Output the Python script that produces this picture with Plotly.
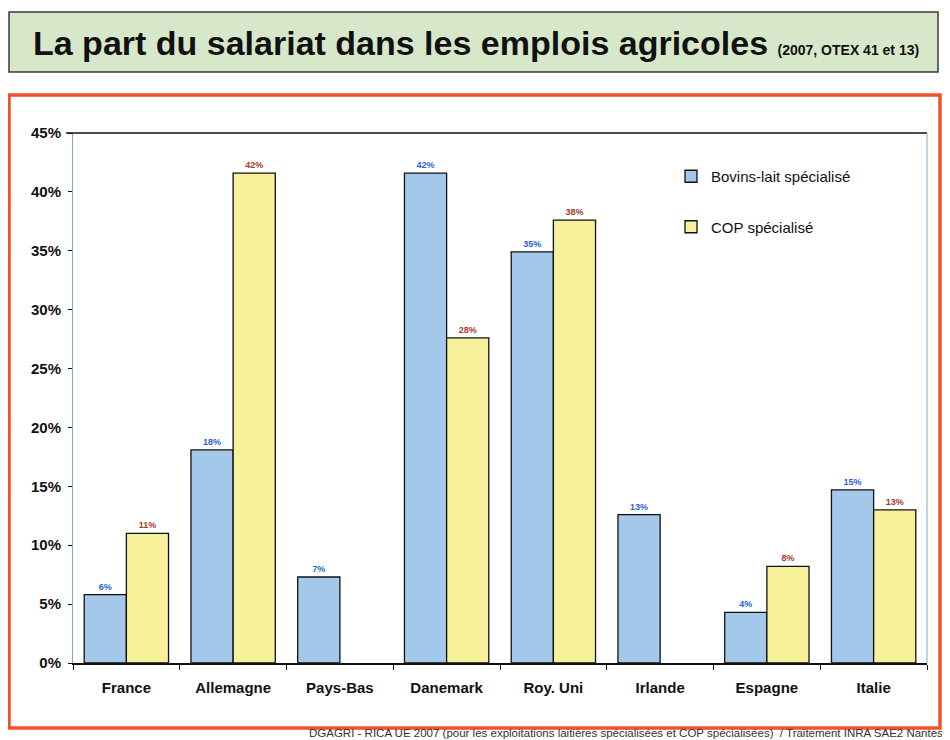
import plotly.graph_objects as go

pays = ["France", "Allemagne", "Pays-Bas", "Danemark", "Roy. Uni", "Irlande", "Espagne", "Italie"]
bovins_lait = [5.8, 18.1, 7.3, 41.6, 34.9, 12.6, 4.3, 14.7]
cop = [11.0, 41.6, None, 27.6, 37.6, None, 8.2, 13.0]
y_ticks = [0, 5, 10, 15, 20, 25, 30, 35, 40, 45]
y_labels = ["%d%%" % v for v in y_ticks]

# la page html ajoute une marge de 8px autour de la figure
O = 8
W, H = 950 - O, 740 - O
L, R, T, B = 73 - O, 927 - O, 133 - O, 663 - O

def px(x):
    return (x - O - L) / (R - L)

def py(y):
    return (B - (y - O)) / (B - T)

fig = go.Figure()
fig.add_trace(go.Bar(x=pays, y=bovins_lait, name="Bovins-lait spécialisé",
                     marker=dict(color="#a3c8ea", line=dict(color="#111111", width=1.3)),
                     texttemplate="%{y:.0f}%", textposition="outside",
                     textfont=dict(family="Liberation Sans", size=9, color="#2a62d0", weight="bold"),
                     legendgroup="a", cliponaxis=False))
fig.add_trace(go.Bar(x=pays, y=cop, name="COP spécialisé",
                     marker=dict(color="#f6f19a", line=dict(color="#111111", width=1.3)),
                     texttemplate="%{y:.0f}%", textposition="outside",
                     textfont=dict(family="Liberation Sans", size=9, color="#a8382c", weight="bold"),
                     legendgroup="b", cliponaxis=False))

fig.update_layout(
    width=W, height=H,
    margin=dict(l=L, r=W - R, t=T, b=H - B),
    paper_bgcolor="white", plot_bgcolor="white",
    barmode="group", bargap=0.21, bargroupgap=0,
    font=dict(family="Liberation Sans", color="#111111"),
    legend=dict(x=px(671), y=py(160), xanchor="left", yanchor="top",
                font=dict(size=15, color="#111111"), tracegroupgap=28,
                traceorder="grouped", bgcolor="rgba(0,0,0,0)"),
    uniformtext=dict(minsize=9, mode="show"),
)
fig.update_yaxes(range=[0, 45], tickvals=y_ticks, ticktext=y_labels, showgrid=False, zeroline=False,
                 showline=True, linecolor="#7fa8c8", linewidth=1,
                 ticks="outside", ticklen=4, tickcolor="#111111", ticklabelstandoff=4,
                 tickfont=dict(size=15, family="Liberation Sans", color="#111111", weight="bold"))
fig.update_xaxes(showline=True, linecolor="#111111", linewidth=1.5,
                 ticks="outside", ticklen=5, tickcolor="#111111", tickson="boundaries",
                 ticklabelstandoff=10,
                 tickfont=dict(size=15, family="Liberation Sans", color="#111111", weight="bold"))

# bordure haute et droite du graphe
fig.add_shape(type="line", xref="paper", yref="paper", x0=px(66), x1=1, y0=1, y1=1,
              line=dict(color="#111111", width=1.5))
fig.add_shape(type="line", xref="paper", yref="paper", x0=1, x1=1, y0=0, y1=1,
              line=dict(color="#7fa8c8", width=1))

# cadre du titre
fig.add_shape(type="rect", xref="paper", yref="paper", x0=px(9), x1=px(938), y0=py(72), y1=py(12),
              fillcolor="#d6e8c9", line=dict(color="#3a3a3a", width=1.5), layer="below")
fig.add_annotation(xref="paper", yref="paper", x=px(31), y=py(43), xanchor="left", yanchor="middle",
                   showarrow=False,
                   text="<b>La part du salariat dans les emplois agricoles</b> "
                        "<span style='font-size:14px'><b>(2007, OTEX 41 et 13)</b></span>",
                   font=dict(family="Liberation Sans", size=34, color="#111111"))

# cadre rouge
fig.add_shape(type="rect", xref="paper", yref="paper", x0=px(9), x1=px(940), y0=py(728), y1=py(95),
              line=dict(color="#f0522c", width=3.5), layer="below")

fig.add_annotation(xref="paper", yref="paper", x=px(945), y=py(733), xanchor="right", yanchor="middle",
                   showarrow=False,
                   text="DGAGRI - RICA UE 2007 (pour les exploitations laitières spécialisées et COP spécialisées)  / Traitement INRA SAE2 Nantes",
                   font=dict(family="Liberation Sans", size=11.5, color="#333333"))

fig.write_html("out.html")
